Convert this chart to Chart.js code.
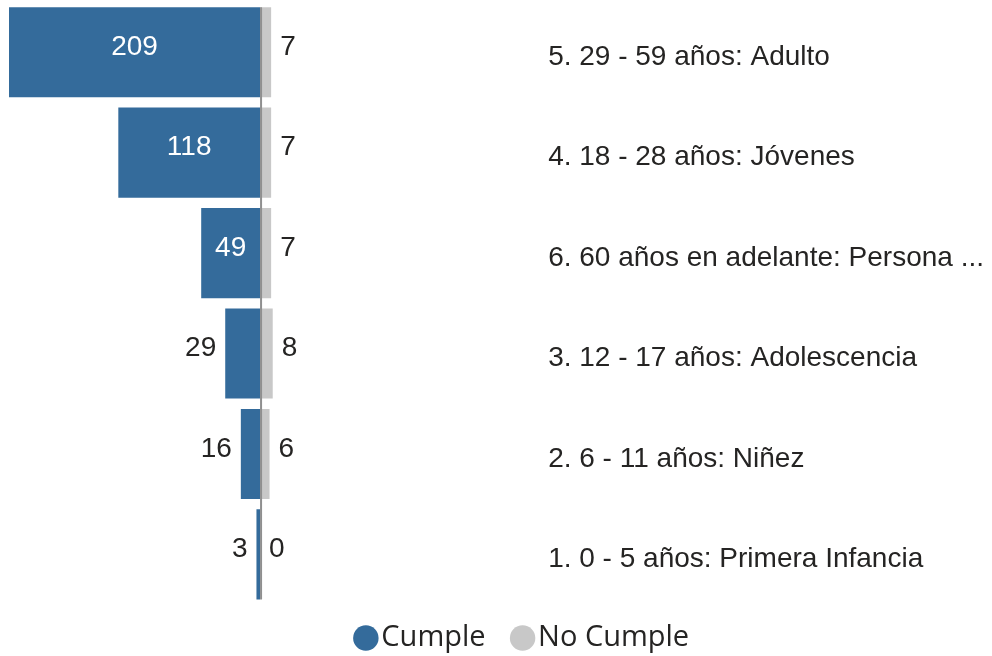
<!DOCTYPE html>
<html>
<head>
<meta charset="utf-8">
<script src="https://cdn.jsdelivr.net/npm/chart.js@4.4.1/dist/chart.umd.min.js"></script>
<style>
  html, body { margin: 0; padding: 0; background: #ffffff; }
  #wrap { width: 992px; height: 656px; }
</style>
</head>
<body>
<div id="wrap"><canvas id="c" width="992" height="656"></canvas></div>
<script>
const categories = [
  '5. 29 - 59 años: Adulto',
  '4. 18 - 28 años: Jóvenes',
  '6. 60 años en adelante: Persona ...',
  '3. 12 - 17 años: Adolescencia',
  '2. 6 - 11 años: Niñez',
  '1. 0 - 5 años: Primera Infancia'
];
const cumple = [209, 118, 49, 29, 16, 3];
const noCumple = [7, 7, 7, 8, 6, 0];
const seriesNames = ['Cumple', 'No Cumple'];

const BLUE = '#346B9B';
const GRAY = '#C8C8C8';
const TEXT = '#252423';
const LABEL_FONT = '28px "Liberation Sans", Arial, sans-serif';

const legendShift = {
  id: 'legendShift',
  afterLayout(chart) {
    const lg = chart.legend;
    if (!lg) return;
    lg.left += 26.5; lg.right += 26.5;
    lg.top -= 17; lg.bottom -= 17;
    if (lg.adjustHitBoxes) lg.adjustHitBoxes();
  }
};

const centerLine = {
  id: 'centerLine',
  afterDatasetsDraw(chart) {
    const ctx = chart.ctx;
    const x = chart.scales.x1.getPixelForValue(0);
    const bars = chart.getDatasetMeta(0).data;
    const first = bars[0], last = bars[bars.length - 1];
    const top = first.y - first.height / 2;
    const bottom = last.y + last.height / 2;
    ctx.save();
    ctx.strokeStyle = '#8f8f8f';
    ctx.lineWidth = 2;
    ctx.beginPath();
    ctx.moveTo(x + 1, top);
    ctx.lineTo(x + 1, bottom);
    ctx.stroke();
    ctx.restore();
  }
};

const valueLabels = {
  id: 'valueLabels',
  afterDatasetsDraw(chart) {
    const ctx = chart.ctx;
    ctx.save();
    ctx.font = LABEL_FONT;
    ctx.textBaseline = 'middle';
    chart.data.datasets.forEach((ds, di) => {
      const meta = chart.getDatasetMeta(di);
      meta.data.forEach((bar, i) => {
        const txt = String(ds.data[i]);
        const w = ctx.measureText(txt).width;
        const left = Math.min(bar.x, bar.base);
        const right = Math.max(bar.x, bar.base);
        const y = bar.y - 5;
        if (w + 16 <= right - left) {
          ctx.fillStyle = '#ffffff';
          ctx.textAlign = 'center';
          ctx.fillText(txt, (left + right) / 2, y);
        } else if (di === 0) {
          ctx.fillStyle = TEXT;
          ctx.textAlign = 'right';
          ctx.fillText(txt, left - 9, y);
        } else {
          ctx.fillStyle = TEXT;
          ctx.textAlign = 'left';
          ctx.fillText(txt, right + 9, y);
        }
      });
    });
    ctx.restore();
  }
};

new Chart(document.getElementById('c'), {
  type: 'bar',
  data: {
    labels: categories,
    datasets: [
      {
        label: seriesNames[0],
        data: cumple,
        xAxisID: 'x1',
        backgroundColor: BLUE,
        borderWidth: 0,
        grouped: false,
        barPercentage: 0.897,
        categoryPercentage: 1.0
      },
      {
        label: seriesNames[1],
        data: noCumple,
        xAxisID: 'x2',
        backgroundColor: GRAY,
        borderWidth: 0,
        grouped: false,
        barPercentage: 0.897,
        categoryPercentage: 1.0
      }
    ]
  },
  options: {
    indexAxis: 'y',
    responsive: false,
    devicePixelRatio: 1,
    animation: false,
    layout: { padding: { left: 9, top: 2, right: 0, bottom: -23.6 } },
    scales: {
      x1: {
        type: 'linear',
        position: 'bottom',
        stack: 'x',
        stackWeight: 251,
        reverse: true,
        min: 0,
        max: 209,
        grid: { display: false, drawTicks: false },
        border: { display: false },
        ticks: { display: false }
      },
      x2: {
        type: 'linear',
        position: 'bottom',
        stack: 'x',
        stackWeight: 280,
        min: 0,
        max: 177,
        grid: { display: false, drawTicks: false },
        border: { display: false },
        ticks: { display: false }
      },
      y: {
        position: 'right',
        grid: { display: false, drawTicks: false },
        border: { display: false },
        afterFit(scale) { scale.paddingTop = 0; scale.paddingBottom = 0; },
        ticks: {
          color: TEXT,
          font: { family: '"Liberation Sans", Arial, sans-serif', size: 28 },
          padding: 8,
          labelOffset: 5
        }
      }
    },
    plugins: {
      legend: {
        position: 'bottom',
        labels: {
          usePointStyle: true,
          pointStyle: 'circle',
          boxWidth: 2,
          boxHeight: 18,
          color: TEXT,
          font: { family: '"Open Sans", sans-serif', size: 29 },
          padding: 36
        }
      },
      tooltip: { enabled: false }
    }
  },
  plugins: [legendShift, centerLine, valueLabels]
});
</script>
</body>
</html>
